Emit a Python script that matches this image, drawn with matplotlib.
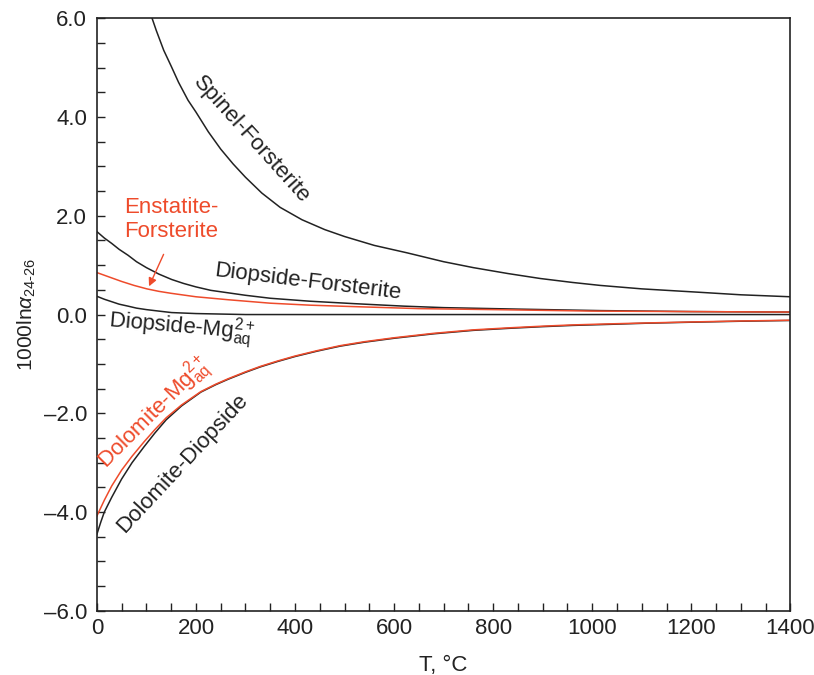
import matplotlib.pyplot as plt
from matplotlib.ticker import MultipleLocator, FuncFormatter

plt.rcParams['font.family'] = ['Liberation Sans', 'DejaVu Sans']
plt.rcParams['mathtext.fontset'] = 'custom'
plt.rcParams['mathtext.rm'] = 'Liberation Sans'
plt.rcParams['mathtext.it'] = 'Liberation Sans:italic'

RED = '#ee4b2b'
INK = '#222222'

# Data (T in degC, 1000 ln alpha 24-26)
t_spinel = [108, 120, 135, 150, 165, 184, 200, 225, 250, 275, 300, 333, 370, 414, 460, 500,
            560, 626, 700, 760, 830, 895, 960, 1016, 1100, 1218, 1300, 1400]
v_spinel = [6.1, 5.75, 5.35, 5.03, 4.7, 4.34, 4.1, 3.7, 3.35, 3.05, 2.78, 2.46, 2.17, 1.92,
            1.72, 1.58, 1.40, 1.25, 1.07, 0.95, 0.83, 0.73, 0.65, 0.59, 0.52, 0.45, 0.40, 0.36]

t_diofo = [0, 15, 30, 45, 63, 80, 100, 125, 151, 175, 200, 230, 265, 300, 350, 430, 521,
           620, 700, 850, 1016, 1200, 1400]
v_diofo = [1.68, 1.55, 1.44, 1.32, 1.2, 1.07, 0.95, 0.82, 0.71, 0.63, 0.56, 0.49, 0.44,
           0.39, 0.33, 0.27, 0.22, 0.17, 0.14, 0.11, 0.08, 0.06, 0.05]

t_ensfo = [0, 25, 50, 75, 101, 125, 150, 200, 265, 350, 430, 521, 650, 800, 1000, 1200, 1400]
v_ensfo = [0.85, 0.76, 0.67, 0.59, 0.52, 0.47, 0.43, 0.36, 0.30, 0.23, 0.19, 0.16, 0.12,
           0.10, 0.07, 0.06, 0.05]

t_diomg = [0, 15, 30, 45, 63, 80, 100, 125, 151, 200, 250, 300, 400, 600, 800, 1000, 1200, 1400]
v_diomg = [0.37, 0.31, 0.26, 0.21, 0.17, 0.13, 0.10, 0.07, 0.04, 0.02, 0.01, 0.0, 0.0, 0.0,
           0.0, 0.0, 0.0, 0.0]

t_doldio = [0, 8, 15, 30, 50, 71, 95, 117, 140, 171, 210, 240, 265, 300, 330, 365, 400, 445,
            491, 540, 600, 680, 760, 830, 900, 960, 1030, 1110, 1200, 1300, 1400]
v_doldio = [-4.45, -4.2, -4.0, -3.7, -3.33, -3.0, -2.68, -2.4, -2.13, -1.85, -1.57, -1.42,
            -1.31, -1.17, -1.06, -0.95, -0.85, -0.74, -0.64, -0.56, -0.48, -0.39, -0.32,
            -0.28, -0.245, -0.22, -0.2, -0.175, -0.155, -0.135, -0.12]

t_dolmg = [0, 15, 30, 50, 71, 95, 117, 140, 171, 210, 240, 265, 300, 330, 365, 400, 445,
           491, 540, 600, 680, 760, 830, 900, 960, 1030, 1110, 1200, 1300, 1400]
v_dolmg = [-4.08, -3.76, -3.47, -3.15, -2.87, -2.58, -2.33, -2.09, -1.83, -1.56, -1.41,
           -1.30, -1.16, -1.05, -0.94, -0.84, -0.73, -0.63, -0.55, -0.47, -0.38, -0.31,
           -0.27, -0.235, -0.21, -0.19, -0.17, -0.15, -0.13, -0.115]

fig = plt.figure(figsize=(8.14, 6.75), dpi=100)
ax = fig.add_axes([0.119, 0.095, 0.852, 0.878])

ax.plot(t_spinel, v_spinel, color=INK, lw=1.1)
ax.plot(t_diofo, v_diofo, color=INK, lw=1.1)
ax.plot(t_ensfo, v_ensfo, color=RED, lw=1.1)
ax.plot(t_diomg, v_diomg, color=INK, lw=1.1)
ax.plot(t_doldio, v_doldio, color=INK, lw=1.1)
ax.plot(t_dolmg, v_dolmg, color=RED, lw=1.1)

ax.set_xlim(0, 1400)
ax.set_ylim(-6, 6)

ax.xaxis.set_major_locator(MultipleLocator(200))
ax.xaxis.set_minor_locator(MultipleLocator(50))
ax.yaxis.set_major_locator(MultipleLocator(2))
ax.yaxis.set_minor_locator(MultipleLocator(0.5))
ax.yaxis.set_major_formatter(FuncFormatter(lambda v, p: f'{v:.1f}'.replace('-', '\u2013')))
ax.tick_params(which='both', direction='in', length=6, width=1.0, color=INK,
               top=False, right=False, labelsize=16, labelcolor=INK)
ax.tick_params(axis='y', pad=7)
ax.tick_params(axis='x', pad=5)
for s in ax.spines.values():
    s.set_linewidth(1.2)
    s.set_color(INK)

ax.set_xlabel('T, \u00b0C', fontsize=16, labelpad=12, color=INK)
ax.set_ylabel(r'1000ln$\mathit{\alpha}_{24\text{-}26}$', fontsize=15, labelpad=4, color=INK)

fs = 16
ax.text(313, 3.54, 'Spinel-Forsterite', fontsize=fs, rotation=-48,
        ha='center', va='center', rotation_mode='anchor', color=INK)
ax.text(425, 0.66, 'Diopside-Forsterite', fontsize=fs, rotation=-7,
        ha='center', va='center', rotation_mode='anchor', color=INK)
ax.text(170, -0.27, r'Diopside-Mg$^{2+}_{\rm aq}$', fontsize=fs, rotation=-5,
        ha='center', va='center', rotation_mode='anchor', color=INK)
ax.text(118, -2.0, r'Dolomite-Mg$^{2+}_{\rm aq}$', fontsize=fs, rotation=45,
        ha='center', va='center', rotation_mode='anchor', color=RED)
ax.text(172, -3.02, 'Dolomite-Diopside', fontsize=fs, rotation=47,
        ha='center', va='center', rotation_mode='anchor', color=INK)
ax.text(56, 2.38, 'Enstatite-\nForsterite', fontsize=fs, ha='left', va='top',
        color=RED, linespacing=1.2)
ax.annotate('', xy=(103, 0.52), xytext=(137, 1.27),
            arrowprops=dict(arrowstyle='-|>', color=RED, lw=1.0, mutation_scale=12))

plt.savefig('out.png', dpi=100)
